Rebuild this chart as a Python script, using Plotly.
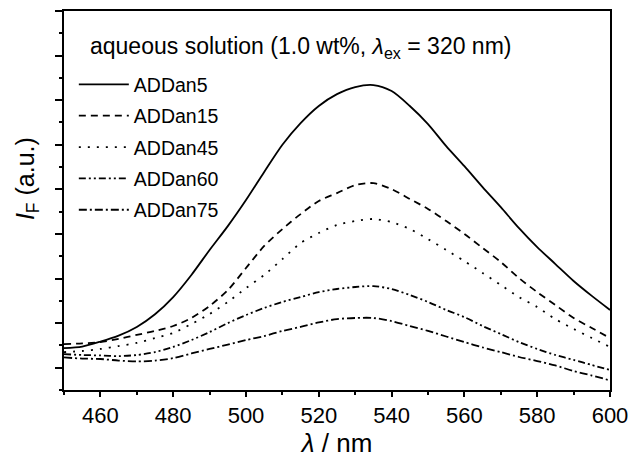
import plotly.graph_objects as go

wavelength = list(range(450, 601, 5))

addan5 = [1.88, 1.95, 2.17, 2.44, 2.83, 3.40, 4.17, 5.16, 6.28, 7.35, 8.52, 9.78, 11.00, 11.97, 12.74,
          13.27, 13.59, 13.68, 13.41, 12.74, 11.93, 10.94, 10.04, 9.10, 8.20, 7.26, 6.41, 5.65, 4.89, 4.22, 3.59]
addan15 = [2.06, 2.09, 2.15, 2.29, 2.47, 2.65, 2.87, 3.23, 3.77, 4.48, 5.47, 6.46, 7.22, 7.89, 8.48,
           8.83, 9.19, 9.28, 9.01, 8.57, 8.12, 7.58, 7.00, 6.37, 5.74, 5.02, 4.39, 3.81, 3.23, 2.78, 2.33]
addan45 = [1.70, 1.75, 1.84, 1.97, 2.11, 2.33, 2.56, 2.96, 3.41, 3.95, 4.57, 5.16, 5.87, 6.59, 7.04,
           7.40, 7.58, 7.67, 7.53, 7.22, 6.77, 6.28, 5.78, 5.25, 4.71, 4.17, 3.72, 3.18, 2.74, 2.33, 1.93]
addan60 = [1.61, 1.57, 1.55, 1.52, 1.57, 1.70, 1.93, 2.24, 2.60, 3.00, 3.36, 3.68, 3.95, 4.17, 4.39,
           4.53, 4.62, 4.66, 4.53, 4.26, 3.95, 3.59, 3.27, 2.87, 2.51, 2.15, 1.84, 1.57, 1.35, 1.12, 0.90]
addan75 = [1.46, 1.41, 1.39, 1.32, 1.28, 1.32, 1.43, 1.64, 1.84, 2.04, 2.24, 2.42, 2.65, 2.83, 3.03,
           3.18, 3.23, 3.23, 3.09, 2.87, 2.65, 2.40, 2.15, 1.91, 1.70, 1.48, 1.30, 1.10, 0.85, 0.65, 0.43]

series_names = ["ADDan5", "ADDan15", "ADDan45", "ADDan60", "ADDan75"]
series_values = [addan5, addan15, addan45, addan60, addan75]
dashes = ["solid", "7px,5px", "2px,7px", "7px,3px,2px,3px,2px,3px", "8px,3px,2px,3px"]

x_tickvals = [460, 480, 500, 520, 540, 560, 580, 600]
x_ticktext = ["460", "480", "500", "520", "540", "560", "580", "600"]

FONT = "Liberation Sans, Arial, sans-serif"

fig = go.Figure()
for name, vals, dash in zip(series_names, series_values, dashes):
    fig.add_trace(go.Scatter(
        x=wavelength, y=vals, mode="lines", name=name,
        line=dict(color="black", width=1.8, dash=dash, shape="spline", smoothing=0.8),
        legendgroup=name,
    ))

fig.update_layout(
    width=629, height=461,
    margin=dict(l=64, r=19, t=11, b=71),
    paper_bgcolor="white", plot_bgcolor="white",
    font=dict(family=FONT, color="black", size=19),
    showlegend=True,
    legend=dict(x=0.018, y=0.857, xanchor="left", yanchor="top",
                bgcolor="rgba(0,0,0,0)", borderwidth=0,
                font=dict(family=FONT, size=19.5), itemwidth=50,
                tracegroupgap=3),
    annotations=[
        dict(x=0.044, y=0.905, xref="paper", yref="paper", xanchor="left", yanchor="middle",
             text="aqueous solution (1.0 wt%, <i>\u03bb</i><sub>ex</sub> = 320 nm)",
             showarrow=False, font=dict(family=FONT, size=23, color="black")),
        dict(x=-0.0678, y=0.559, xref="paper", yref="paper", xanchor="center", yanchor="middle",
             text="<i>I</i><sub>F</sub> (a.u.)", textangle=-90,
             showarrow=False, font=dict(family=FONT, size=25, color="black")),
    ],
)

fig.update_xaxes(
    range=[450, 600], showgrid=False, zeroline=False, automargin=False,
    showline=True, linecolor="black", linewidth=2, mirror=True,
    ticks="outside", ticklen=5, tickwidth=1.5, tickcolor="black",
    tickvals=x_tickvals, ticktext=x_ticktext,
    tickfont=dict(family=FONT, size=22),
    minor=dict(ticks="outside", ticklen=3, tickwidth=1.5, tickcolor="black", dtick=10, tick0=450),
    title=dict(text="<i>\u03bb</i> / nm", font=dict(family=FONT, size=26), standoff=5),
)
fig.update_yaxes(
    range=[0, 17], showgrid=False, zeroline=False, automargin=False,
    showline=True, linecolor="black", linewidth=2, mirror=True,
    ticks="outside", ticklen=7, tickwidth=1.5, tickcolor="black",
    tick0=1, dtick=2, showticklabels=False,
    minor=dict(ticks="outside", ticklen=3, tickwidth=1.5, tickcolor="black", dtick=1, tick0=0),
)

fig.write_html("out.html", config={"displayModeBar": False},
               post_script="document.body.style.margin='0';")
